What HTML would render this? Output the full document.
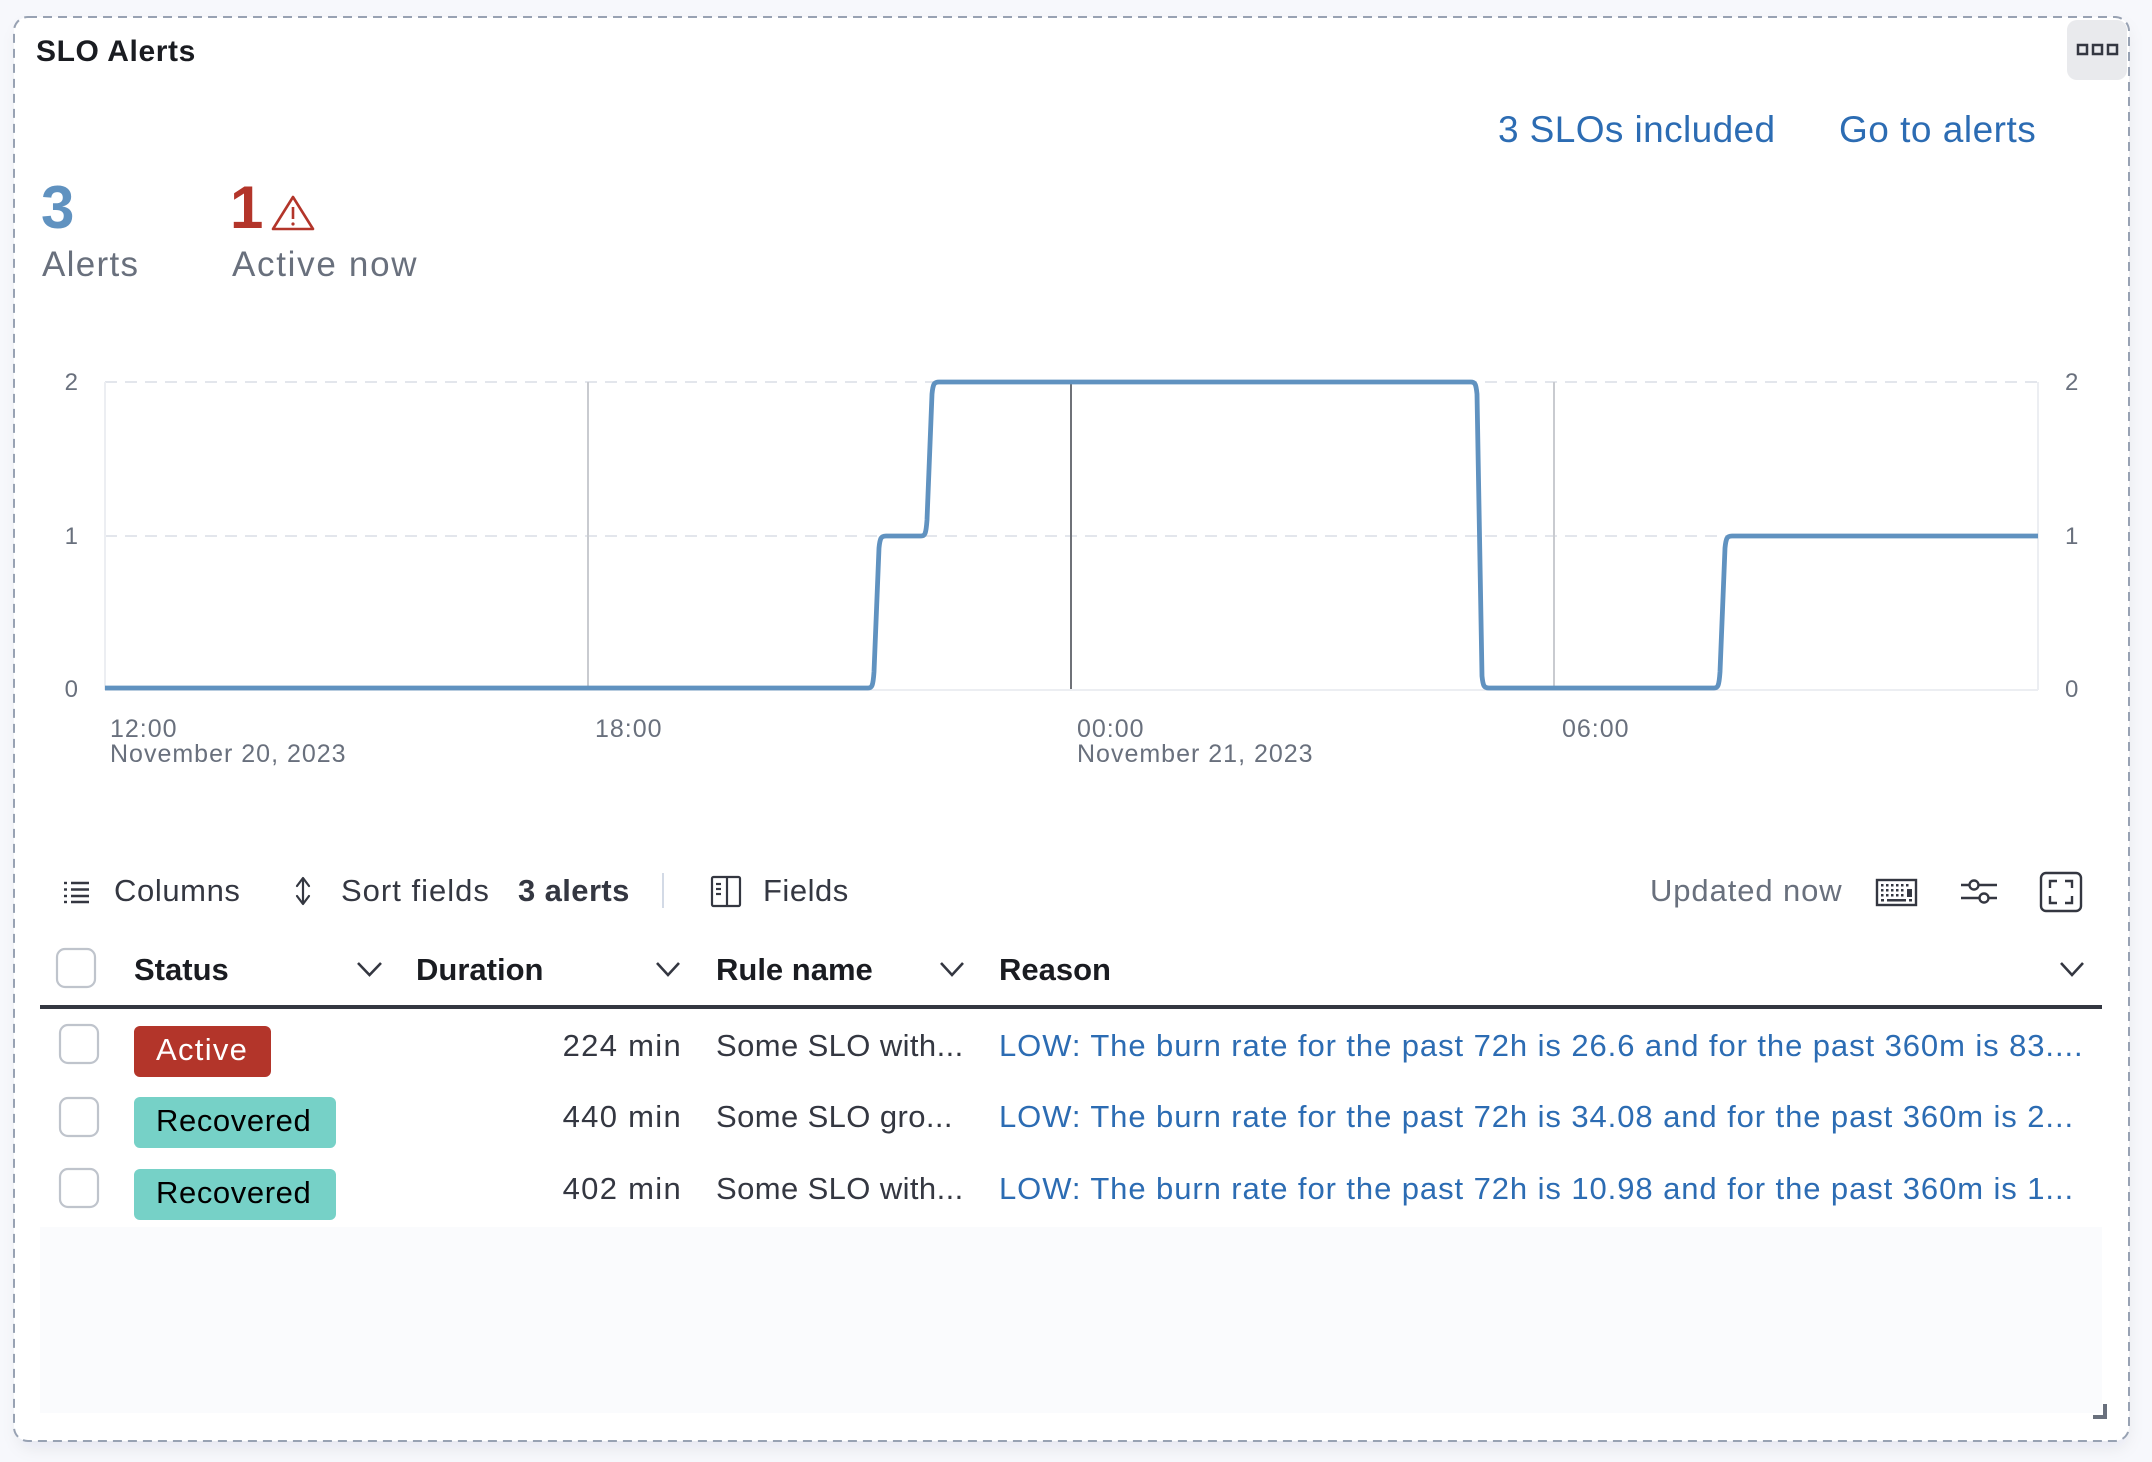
<!DOCTYPE html>
<html>
<head>
<meta charset="utf-8">
<style>
html,body{margin:0;padding:0;background:#f7f8fc;}
body{width:2152px;height:1462px;overflow:hidden;}
svg{display:block;}
text{font-family:"Liberation Sans",Arial,sans-serif;}
</style>
</head>
<body>
<svg width="2152" height="1462" viewBox="0 0 2152 1462" xmlns="http://www.w3.org/2000/svg">
  <defs>
    <filter id="sh" x="-5%" y="-5%" width="110%" height="110%"><feGaussianBlur stdDeviation="8"/></filter>
  </defs>
  <rect width="2152" height="1462" fill="#f7f8fc"/>
  <!-- panel -->
  <rect x="18" y="26" width="2110" height="1422" rx="14" fill="rgba(30,40,60,0.07)" filter="url(#sh)"/>
  <rect x="14" y="17" width="2115" height="1424" rx="14" fill="#ffffff" stroke="#98a2b3" stroke-width="2" stroke-dasharray="9 6"/>

  <!-- title -->
  <text x="36" y="61" font-size="30" font-weight="bold" fill="#1a1c21" letter-spacing="0.6">SLO Alerts</text>

  <!-- menu button -->
  <rect x="2067" y="20" width="60" height="60" rx="10" fill="#e9eaed"/>
  <g fill="none" stroke="#343741" stroke-width="2.5">
    <rect x="2078" y="45" width="9" height="9"/>
    <rect x="2093" y="45" width="9" height="9"/>
    <rect x="2108" y="45" width="9" height="9"/>
  </g>

  <!-- links -->
  <text x="1498" y="142" font-size="37" fill="#2c6cb3" letter-spacing="0.4">3 SLOs included</text>
  <text x="1839" y="142" font-size="37" fill="#2c6cb3" letter-spacing="0.5">Go to alerts</text>

  <!-- stats -->
  <text x="41" y="228" font-size="60" font-weight="bold" fill="#6092c0">3</text>
  <text x="42" y="276" font-size="35" fill="#69707d" letter-spacing="1.3">Alerts</text>
  <text x="230" y="228" font-size="60" font-weight="bold" fill="#b3352a">1</text>
  <g fill="none" stroke="#b3352a" stroke-width="2.6" stroke-linejoin="round">
    <path d="M293,197 L313,229 L273,229 Z"/>
  </g>
  <line x1="293" y1="207" x2="293" y2="219" stroke="#b3352a" stroke-width="2.6"/>
  <circle cx="293" cy="224" r="1.6" fill="#b3352a"/>
  <text x="232" y="276" font-size="35" fill="#69707d" letter-spacing="1.7">Active now</text>

  <!-- chart grid -->
  <g stroke="#e3e6ec" stroke-width="2" stroke-dasharray="12 8">
    <line x1="105" y1="382" x2="2038" y2="382"/>
    <line x1="105" y1="536" x2="2038" y2="536"/>
  </g>
  <g stroke="#eceef2" stroke-width="2">
    <line x1="105" y1="382" x2="105" y2="690"/>
    <line x1="2038" y1="382" x2="2038" y2="690"/>
    <line x1="105" y1="690" x2="2038" y2="690"/>
  </g>
  <line x1="588" y1="382" x2="588" y2="689" stroke="#c9cbd0" stroke-width="2"/>
  <line x1="1554" y1="382" x2="1554" y2="689" stroke="#c9cbd0" stroke-width="2"/>
  <line x1="1071" y1="382" x2="1071" y2="689" stroke="#6f7278" stroke-width="2"/>

  <!-- series -->
  <path d="M105,688 L868,688 C872,688 873,686 874,672 L879,548 C880,538 881,536 886,536 L921,536 C925,536 926,534 927,520 L932,394 C933,384 934,382 939,382 L1471,382 C1475,382 1476,384 1477,394 L1482,676 C1483,686 1484,688 1489,688 L1714,688 C1718,688 1719,686 1720,672 L1725,548 C1726,538 1727,536 1732,536 L2038,536" fill="none" stroke="#6092c0" stroke-width="4.8" stroke-linejoin="round"/>

  <!-- y labels -->
  <g font-size="24" fill="#69707d">
    <text x="78" y="390" text-anchor="end">2</text>
    <text x="78" y="544" text-anchor="end">1</text>
    <text x="78" y="697" text-anchor="end">0</text>
    <text x="2065" y="390">2</text>
    <text x="2065" y="544">1</text>
    <text x="2065" y="697">0</text>
  </g>
  <!-- x labels -->
  <g font-size="25" fill="#69707d" letter-spacing="1">
    <text x="110" y="737">12:00</text>
    <text x="110" y="762">November 20, 2023</text>
    <text x="595" y="737">18:00</text>
    <text x="1077" y="737">00:00</text>
    <text x="1077" y="762">November 21, 2023</text>
    <text x="1562" y="737">06:00</text>
  </g>

  <!-- toolbar -->
  <g stroke="#343741" stroke-width="2.4">
    <line x1="64" y1="883" x2="67" y2="883"/><line x1="71" y1="883" x2="89" y2="883"/>
    <line x1="64" y1="889.5" x2="67" y2="889.5"/><line x1="71" y1="889.5" x2="89" y2="889.5"/>
    <line x1="64" y1="896" x2="67" y2="896"/><line x1="71" y1="896" x2="89" y2="896"/>
    <line x1="64" y1="902" x2="67" y2="902"/><line x1="71" y1="902" x2="89" y2="902"/>
  </g>
  <text x="114" y="901" font-size="31" fill="#343741" letter-spacing="0.6">Columns</text>
  <g fill="none" stroke="#343741" stroke-width="2.2" stroke-linejoin="round" stroke-linecap="round">
    <path d="M297,886 L303,878 L309,886"/>
    <path d="M297,896 L303,904 L309,896"/>
    <line x1="303" y1="879" x2="303" y2="903"/>
  </g>
  <text x="341" y="901" font-size="31" fill="#343741" letter-spacing="1">Sort fields</text>
  <text x="518" y="901" font-size="31" font-weight="bold" fill="#343741" letter-spacing="0.4">3 alerts</text>
  <line x1="663" y1="873" x2="663" y2="908" stroke="#d3dae6" stroke-width="2"/>
  <g fill="none" stroke="#343741" stroke-width="2.2">
    <rect x="712" y="877" width="28" height="29" rx="1.5"/>
    <line x1="727" y1="877" x2="727" y2="906"/>
    <line x1="716" y1="884" x2="721" y2="884"/>
    <line x1="716" y1="889" x2="721" y2="889"/>
    <line x1="716" y1="894" x2="721" y2="894"/>
  </g>
  <text x="763" y="901" font-size="31" fill="#343741" letter-spacing="0.5">Fields</text>

  <text x="1650" y="901" font-size="31" fill="#69707d" letter-spacing="0.9">Updated now</text>
  <!-- keyboard -->
  <g>
    <rect x="1877" y="880" width="39" height="25" fill="none" stroke="#343741" stroke-width="2.4"/>
    <g fill="#343741">
      <rect x="1881" y="884" width="2.5" height="2.5"/><rect x="1886" y="884" width="2.5" height="2.5"/><rect x="1891" y="884" width="2.5" height="2.5"/><rect x="1896" y="884" width="2.5" height="2.5"/><rect x="1901" y="884" width="2.5" height="2.5"/><rect x="1906" y="884" width="2.5" height="2.5"/>
      <rect x="1881" y="889" width="2.5" height="2.5"/><rect x="1886" y="889" width="2.5" height="2.5"/><rect x="1891" y="889" width="2.5" height="2.5"/><rect x="1896" y="889" width="2.5" height="2.5"/><rect x="1901" y="889" width="2.5" height="2.5"/>
      <rect x="1881" y="894" width="2.5" height="2.5"/><rect x="1886" y="894" width="2.5" height="2.5"/><rect x="1891" y="894" width="2.5" height="2.5"/><rect x="1896" y="894" width="2.5" height="2.5"/><rect x="1901" y="894" width="2.5" height="2.5"/>
      <rect x="1907" y="889" width="5" height="8"/>
      <rect x="1881" y="899" width="3" height="2.5"/><rect x="1887" y="899" width="19" height="2.5"/><rect x="1909" y="899" width="3" height="2.5"/>
    </g>
  </g>
  <!-- sliders -->
  <g fill="#fff" stroke="#343741" stroke-width="2.4">
    <line x1="1961" y1="885" x2="1997" y2="885"/>
    <line x1="1961" y1="898" x2="1997" y2="898"/>
    <circle cx="1974" cy="885" r="4.5"/>
    <circle cx="1984" cy="898" r="4.5"/>
  </g>
  <!-- fullscreen -->
  <g fill="none" stroke="#343741" stroke-width="2.4">
    <rect x="2041" y="873" width="40" height="38" rx="5"/>
    <path d="M2050,888 L2050,881 L2057,881"/>
    <path d="M2065,881 L2072,881 L2072,888"/>
    <path d="M2050,896 L2050,903 L2057,903"/>
    <path d="M2065,903 L2072,903 L2072,896"/>
  </g>

  <!-- header row -->
  <rect x="57" y="949" width="38" height="38" rx="8" fill="#fff" stroke="#bfc4cc" stroke-width="2.2"/>
  <g font-size="31" font-weight="bold" fill="#1a1c21">
    <text x="134" y="980">Status</text>
    <text x="416" y="980">Duration</text>
    <text x="716" y="980">Rule name</text>
    <text x="999" y="980">Reason</text>
  </g>
  <g fill="none" stroke="#343741" stroke-width="2.6" stroke-linejoin="miter">
    <path d="M358,963 L369.5,975 L381,963"/>
    <path d="M657,963 L668,975 L679,963"/>
    <path d="M941,963 L952,975 L963,963"/>
    <path d="M2061,963 L2072,975 L2083,963"/>
  </g>
  <rect x="40" y="1005" width="2062" height="4" fill="#343741"/>

  <!-- rows -->
  <g fill="#fff" stroke="#bfc4cc" stroke-width="2.2">
    <rect x="60" y="1025" width="38" height="38" rx="8"/>
    <rect x="60" y="1098" width="38" height="38" rx="8"/>
    <rect x="60" y="1169" width="38" height="38" rx="8"/>
  </g>
  <rect x="134" y="1026" width="137" height="51" rx="6" fill="#b3352a"/>
  <text x="156" y="1060" font-size="31" fill="#ffffff" letter-spacing="1.3">Active</text>
  <rect x="134" y="1097" width="202" height="51" rx="6" fill="#76d1c7"/>
  <text x="156" y="1131" font-size="31" fill="#000000" letter-spacing="0.6">Recovered</text>
  <rect x="134" y="1169" width="202" height="51" rx="6" fill="#76d1c7"/>
  <text x="156" y="1203" font-size="31" fill="#000000" letter-spacing="0.6">Recovered</text>

  <g font-size="31" fill="#343741" letter-spacing="1.3">
    <text x="682" y="1056" text-anchor="end">224 min</text>
    <text x="682" y="1127" text-anchor="end">440 min</text>
    <text x="682" y="1199" text-anchor="end">402 min</text>
  </g>
  <g font-size="31" fill="#343741" letter-spacing="0.4">
    <text x="716" y="1056">Some SLO with...</text>
    <text x="716" y="1127">Some SLO gro...</text>
    <text x="716" y="1199">Some SLO with...</text>
  </g>
  <g font-size="31" fill="#2c6cb3" letter-spacing="0.92">
    <text x="999" y="1056">LOW: The burn rate for the past 72h is 26.6 and for the past 360m is 83....</text>
    <text x="999" y="1127">LOW: The burn rate for the past 72h is 34.08 and for the past 360m is 2...</text>
    <text x="999" y="1199">LOW: The burn rate for the past 72h is 10.98 and for the past 360m is 1...</text>
  </g>

  <!-- empty area -->
  <rect x="40" y="1227" width="2062" height="186" fill="#fafbfd"/>
  <!-- resize handle -->
  <g fill="#69707d">
    <rect x="2103" y="1404" width="4" height="15"/>
    <rect x="2093" y="1415" width="14" height="4"/>
  </g>
</svg>
</body>
</html>
